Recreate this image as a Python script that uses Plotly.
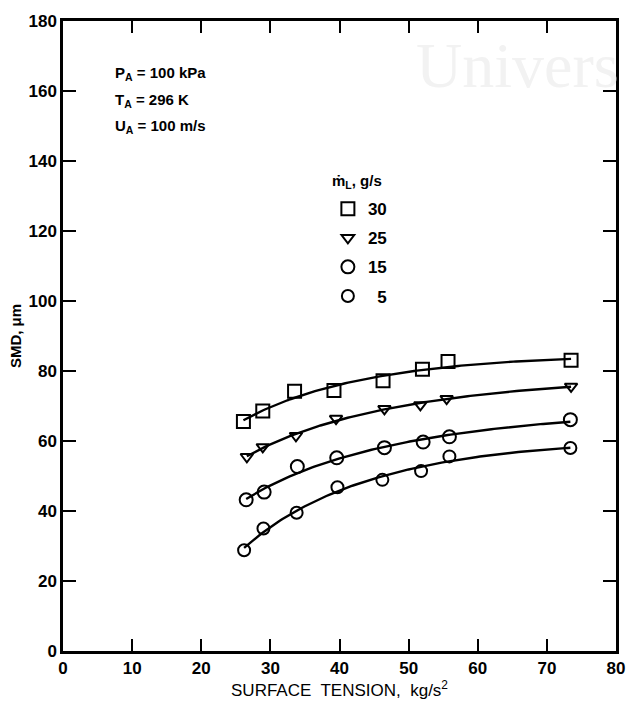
import numpy as np
import plotly.graph_objects as go

# ---- data ----
x30 = [26.1, 28.9, 33.5, 39.2, 46.3, 52.0, 55.7, 73.5]
y30 = [65.6, 68.6, 74.2, 74.4, 77.2, 80.5, 82.7, 83.1]

x25 = [26.6, 28.9, 33.7, 39.5, 46.5, 51.7, 55.5, 73.5]
y25 = [55.5, 58.3, 61.5, 66.4, 69.2, 70.3, 72.1, 75.6]

x15 = [26.5, 29.1, 33.9, 39.6, 46.5, 52.1, 55.9, 73.4]
y15 = [43.2, 45.4, 52.7, 55.2, 58.1, 59.7, 61.2, 66.1]

x5 = [26.2, 29.0, 33.8, 39.7, 46.2, 51.8, 55.9, 73.4]
y5 = [28.8, 35.0, 39.5, 46.8, 48.9, 51.4, 55.6, 58.0]

series_names = ["30", "25", "15", "\u20075"]
symbols = ["square-open", "triangle-down-open", "circle-open", "circle-open"]
sizes = [13, 11, 13, 12]

x_ticks = [0, 10, 20, 30, 40, 50, 60, 70, 80]
y_ticks = [0, 20, 40, 60, 80, 100, 120, 140, 160, 180]

FONT = "Liberation Sans"
fig = go.Figure()

data = [(x30, y30), (x25, y25), (x15, y15), (x5, y5)]
for (xs, ys), name, sym, sz in zip(data, series_names, symbols, sizes):
    lx = np.log(np.array(xs))
    coef = np.polyfit(lx, np.array(ys), 2)
    xf = np.linspace(min(xs), max(xs), 120)
    yf = np.polyval(coef, np.log(xf))
    fig.add_trace(go.Scatter(x=xf, y=yf, mode="lines",
                             line=dict(color="black", width=2.4),
                             showlegend=False, hoverinfo="skip"))
    fig.add_trace(go.Scatter(x=xs, y=ys, mode="markers", name=name,
                             legendgroup=name,
                             marker=dict(symbol=sym, size=sz, color="black",
                                         line=dict(color="black", width=2))))

fig.update_layout(
    width=637, height=709,
    margin=dict(l=63, r=14, t=17, b=58),
    paper_bgcolor="white", plot_bgcolor="white",
    font=dict(family=FONT, color="black"),
    legend=dict(
        x=0.479, y=0.730, xanchor="left", yanchor="top",
        bgcolor="rgba(0,0,0,0)",
        font=dict(size=17, family=FONT, weight="bold"),
        tracegroupgap=4, itemwidth=30,
    ),
    xaxis=dict(
        range=[0, 80], tickvals=x_ticks, ticktext=[str(v) for v in x_ticks],
        showgrid=False, zeroline=False,
        showline=True, linecolor="black", linewidth=2.5, mirror="ticks",
        ticks="inside", ticklen=12, tickwidth=2, tickcolor="black",
        tickfont=dict(size=17, family=FONT, weight="bold"),
        title=dict(text="SURFACE  TENSION,  kg/s<sup>2</sup>", font=dict(size=17, family=FONT), standoff=6),
    ),
    yaxis=dict(
        range=[0, 180], tickvals=y_ticks, ticktext=[str(v) for v in y_ticks],
        showgrid=False, zeroline=False,
        showline=True, linecolor="black", linewidth=2.5, mirror="ticks",
        ticks="inside", ticklen=13, tickwidth=2, tickcolor="black",
        tickfont=dict(size=17, family=FONT, weight="bold"),
        title=dict(text="SMD, \u03bcm", font=dict(size=15, family=FONT, weight="bold"), standoff=4),
    ),
)

fig.add_annotation(x=0.482, y=0.746, xref="paper", yref="paper",
                   text="\u1e41<sub>L</sub>, g/s", showarrow=False,
                   xanchor="left", yanchor="middle",
                   font=dict(size=15, family=FONT, weight="bold", color="black"))

notes = ["P<sub>A</sub> = 100 kPa", "T<sub>A</sub> = 296 K", "U<sub>A</sub> = 100 m/s"]
for i, t in enumerate(notes):
    fig.add_annotation(x=0.09, y=0.917 - i * 0.0425, xref="paper", yref="paper",
                       text=t, showarrow=False, xanchor="left", yanchor="middle",
                       font=dict(size=15, family=FONT, weight="bold", color="black"))

fig.add_annotation(x=0.635, y=0.93, xref="paper", yref="paper", text="Univers",
                   showarrow=False, xanchor="left", yanchor="middle",
                   font=dict(size=64, family="Liberation Serif", color="#f2f2f2"))

fig.write_html("out.html")
